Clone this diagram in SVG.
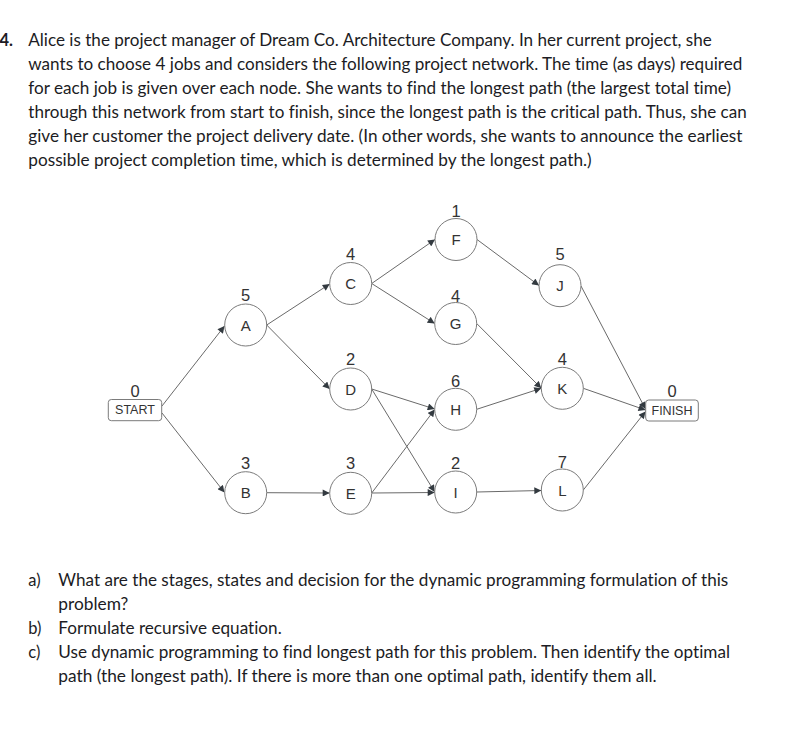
<svg xmlns="http://www.w3.org/2000/svg" width="801" height="752" viewBox="0 0 801 752">
<style>
.q{font-family:Lato,"Open Sans",sans-serif;font-size:16.5px;fill:#1c1c24;font-variant-ligatures:none}
.qb{font-family:Lato,"Open Sans",sans-serif;font-size:16.5px;font-weight:bold;fill:#1c1c24}
.n{fill:#fff;stroke:#7b7b7b;stroke-width:1}
.lt{font-family:"Liberation Sans",Arial,sans-serif;font-size:15px;fill:#333;text-anchor:middle;dominant-baseline:central}
.num{font-family:"Liberation Sans",Arial,sans-serif;font-size:16.5px;fill:#333;text-anchor:middle;dominant-baseline:central}
.bx{font-family:"Liberation Sans",Arial,sans-serif;font-size:12.5px;fill:#333;text-anchor:middle;dominant-baseline:central}
.e{stroke:#6a6a6a;stroke-width:1;fill:none;marker-end:url(#ah)}
</style>
<defs>
<marker id="ah" viewBox="0 0 10 10" refX="10" refY="5" markerWidth="8" markerHeight="7" markerUnits="userSpaceOnUse" orient="auto">
<path d="M0,0 L10,5 L0,10 z" fill="#333a40"/>
</marker>
</defs>
<rect width="801" height="752" fill="#fff"/>
<g id="question">
<text class="qb" x="13" y="46" text-anchor="end">4.</text>
<text class="q" x="28.3" y="46" textLength="683.4" lengthAdjust="spacingAndGlyphs">Alice is the project manager of Dream Co. Architecture Company. In her current project, she</text>
<text class="q" x="28.3" y="70" textLength="714" lengthAdjust="spacingAndGlyphs">wants to choose 4 jobs and considers the following project network. The time (as days) required</text>
<text class="q" x="28.3" y="94" textLength="702.7" lengthAdjust="spacingAndGlyphs">for each job is given over each node. She wants to find the longest path (the largest total time)</text>
<text class="q" x="28.3" y="118" textLength="718.4" lengthAdjust="spacingAndGlyphs">through this network from start to finish, since the longest path is the critical path. Thus, she can</text>
<text class="q" x="28.3" y="142" textLength="714" lengthAdjust="spacingAndGlyphs">give her customer the project delivery date. (In other words, she wants to announce the earliest</text>
<text class="q" x="28.3" y="166" textLength="563.4" lengthAdjust="spacingAndGlyphs">possible project completion time, which is determined by the longest path.)</text>
<text class="q" x="28.3" y="586">a)</text>
<text class="q" x="58.3" y="586" textLength="670" lengthAdjust="spacingAndGlyphs">What are the stages, states and decision for the dynamic programming formulation of this</text>
<text class="q" x="58.3" y="610" textLength="70" lengthAdjust="spacingAndGlyphs">problem?</text>
<text class="q" x="28.3" y="634">b)</text>
<text class="q" x="58.3" y="634" textLength="223.4" lengthAdjust="spacingAndGlyphs">Formulate recursive equation.</text>
<text class="q" x="28.3" y="658">c)</text>
<text class="q" x="58.3" y="658" textLength="671.7" lengthAdjust="spacingAndGlyphs">Use dynamic programming to find longest path for this problem. Then identify the optimal</text>
<text class="q" x="58.3" y="682" textLength="598.4" lengthAdjust="spacingAndGlyphs">path (the longest path). If there is more than one optimal path, identify them all.</text>
</g>
<g id="connectors">
<line class="e" x1="162" y1="406" x2="224.5" y2="326"/>
<line class="e" x1="162" y1="413" x2="224.5" y2="492.5"/>
<line class="e" x1="266.7" y1="325" x2="329.7" y2="284"/>
<line class="e" x1="266.7" y1="325" x2="329.7" y2="389"/>
<line class="e" x1="266.7" y1="492.7" x2="329.7" y2="493"/>
<line class="e" x1="371.7" y1="283.5" x2="435" y2="239.5"/>
<line class="e" x1="371.7" y1="283.5" x2="434.7" y2="323.5"/>
<line class="e" x1="371.7" y1="389" x2="434.7" y2="409"/>
<line class="e" x1="371.7" y1="389" x2="434.7" y2="492"/>
<line class="e" x1="371.7" y1="493" x2="434.7" y2="409.5"/>
<line class="e" x1="371.7" y1="493" x2="434.7" y2="492.5"/>
<line class="e" x1="477" y1="239.5" x2="539" y2="285.5"/>
<line class="e" x1="476.7" y1="323.5" x2="541.3" y2="388.3"/>
<line class="e" x1="476.7" y1="409.3" x2="541.3" y2="388.3"/>
<line class="e" x1="476.7" y1="492" x2="541.3" y2="490.5"/>
<line class="e" x1="581" y1="286" x2="645.5" y2="409"/>
<line class="e" x1="583.3" y1="388.3" x2="645.5" y2="410"/>
<line class="e" x1="583.3" y1="490" x2="645.5" y2="411.5"/>
</g>
<g id="node-start"><rect class="n" x="108.3" y="399.5" width="53.4" height="21.2" rx="3"/><text class="bx" x="135" y="410.3">START</text><text class="num" x="135" y="390.5">0</text></g>
<g id="node-finish"><rect class="n" x="645.7" y="400" width="52.6" height="21" rx="3"/><text class="bx" x="672" y="410.7">FINISH</text><text class="num" x="672" y="391">0</text></g>
<g id="node-A"><circle class="n" cx="245.7" cy="325" r="21"/><text class="lt" x="245.7" y="325">A</text><text class="num" x="245.7" y="295">5</text></g>
<g id="node-B"><circle class="n" cx="245.7" cy="492.7" r="21"/><text class="lt" x="245.7" y="492.7">B</text><text class="num" x="245.7" y="462.5">3</text></g>
<g id="node-C"><circle class="n" cx="350.7" cy="283.5" r="21"/><text class="lt" x="350.7" y="283.5">C</text><text class="num" x="350.7" y="254">4</text></g>
<g id="node-D"><circle class="n" cx="350.7" cy="389" r="21"/><text class="lt" x="350.7" y="389">D</text><text class="num" x="350.7" y="359">2</text></g>
<g id="node-E"><circle class="n" cx="350.7" cy="493.3" r="21"/><text class="lt" x="350.7" y="493.3">E</text><text class="num" x="350.7" y="463">3</text></g>
<g id="node-F"><circle class="n" cx="456" cy="239.5" r="21"/><text class="lt" x="456" y="239.5">F</text><text class="num" x="456" y="211">1</text></g>
<g id="node-G"><circle class="n" cx="455.7" cy="323.5" r="21"/><text class="lt" x="455.7" y="323.5">G</text><text class="num" x="455.7" y="295.5">4</text></g>
<g id="node-H"><circle class="n" cx="455.7" cy="409.3" r="21"/><text class="lt" x="455.7" y="409.3">H</text><text class="num" x="455.7" y="380.5">6</text></g>
<g id="node-I"><circle class="n" cx="455.7" cy="492" r="21"/><text class="lt" x="455.7" y="492">I</text><text class="num" x="455.7" y="463">2</text></g>
<g id="node-J"><circle class="n" cx="560" cy="285.7" r="21"/><text class="lt" x="560" y="285.7">J</text><text class="num" x="560" y="254">5</text></g>
<g id="node-K"><circle class="n" cx="562.3" cy="388.3" r="21"/><text class="lt" x="562.3" y="388.3">K</text><text class="num" x="562.3" y="358.5">4</text></g>
<g id="node-L"><circle class="n" cx="562.3" cy="490" r="21"/><text class="lt" x="562.3" y="490">L</text><text class="num" x="562.3" y="462">7</text></g>
</svg>
